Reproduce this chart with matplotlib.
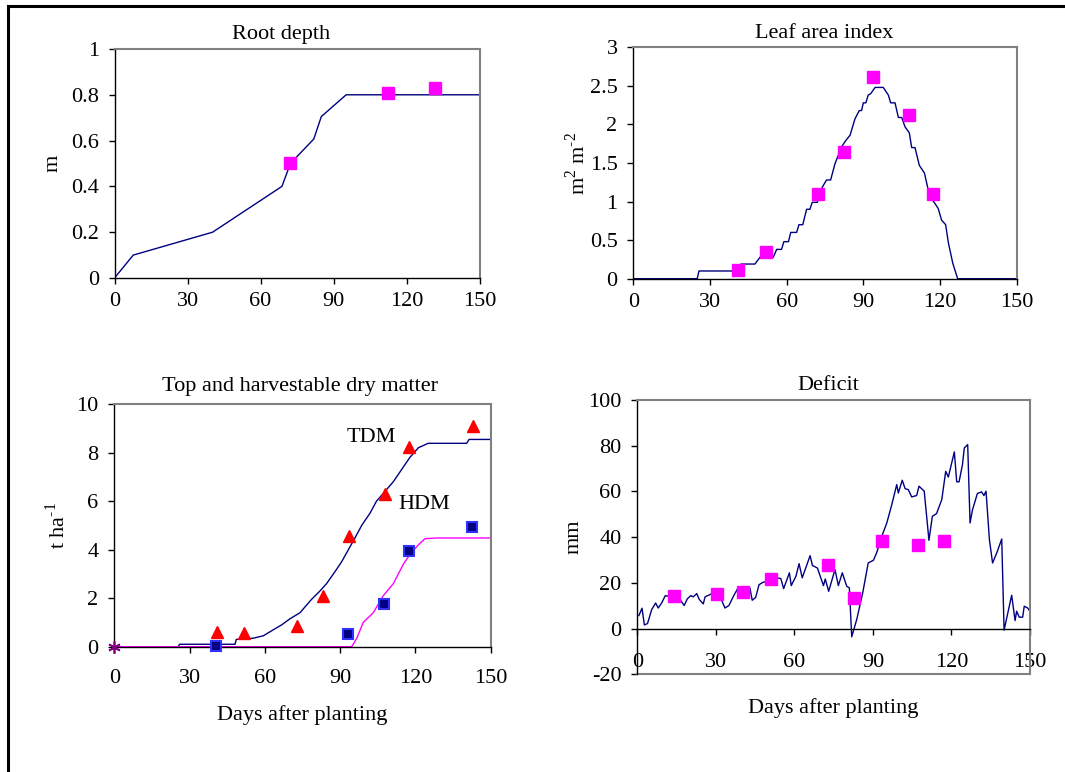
import matplotlib
matplotlib.use("Agg")
import matplotlib.pyplot as plt

plt.rcParams['font.family'] = ['Liberation Serif', 'DejaVu Serif']
plt.rcParams['mathtext.fontset'] = 'custom'
plt.rcParams['mathtext.rm'] = 'Liberation Serif'

# ---------------- data ----------------
# Root depth (m)
root_days = [0, 7.7, 40.3, 68.8, 72.3, 81.9, 85.0, 95.2, 150]
root_sim = [0, 0.10, 0.20, 0.40, 0.50, 0.607, 0.705, 0.80, 0.80]
root_obs_days = [72.3, 112.4, 131.9]
root_obs = [0.50, 0.808, 0.831]

# Leaf area index (m2 m-2)
lai_days = [0, 25.0, 25.7, 41.7, 42.1, 47.6, 49.6, 54.8, 56.1, 58.0, 58.9, 60.7,
            61.6, 63.9, 64.8, 66.3, 67.8, 69.1, 70.0, 72.0, 73.0, 74.0, 75.6,
            77.2, 78.9, 81.5, 83.1, 84.8, 86.7, 88.4, 89.3, 90.0, 91.0, 91.9,
            92.9, 94.6, 97.8, 99.8, 100.7, 102.4, 103.7, 105.0, 106.3, 108.0,
            108.9, 110.2, 111.9, 113.9, 115.4, 117.1, 119.3, 120.6, 122.2,
            123.3, 125.0, 126.9, 150]
lai_sim = [0, 0, 0.10, 0.10, 0.19, 0.19, 0.28, 0.28, 0.38, 0.38, 0.48, 0.48,
           0.60, 0.60, 0.70, 0.70, 0.90, 0.90, 0.99, 0.99, 1.10, 1.19, 1.28,
           1.28, 1.49, 1.71, 1.79, 1.86, 2.07, 2.18, 2.18, 2.28, 2.28, 2.38,
           2.40, 2.48, 2.48, 2.38, 2.28, 2.28, 2.09, 2.09, 1.97, 1.89,
           1.70, 1.70, 1.47, 1.37, 1.15, 1.02, 0.91, 0.76, 0.70,
           0.46, 0.20, 0, 0]
lai_obs_days = [40.8, 51.8, 72.4, 82.6, 93.8, 107.7, 117.3]
lai_obs = [0.11, 0.35, 1.10, 1.64, 2.62, 2.12, 1.10]

# Top (TDM) and harvestable (HDM) dry matter (t/ha)
tdm_days = [0, 25.5, 26, 48.1, 48.6, 55.4, 59.4, 63.4, 66.7, 70.0, 74.0, 78.6,
            82.0, 84.6, 88.0, 90.6, 93.3, 96.0, 98.6, 101.9, 104.5, 107.9,
            111.2, 114.5, 117.8, 121.2, 125.1, 140.4, 141.4, 150]
tdm_sim = [0, 0, 0.10, 0.10, 0.30, 0.35, 0.45, 0.70, 0.90, 1.15, 1.40, 1.95,
           2.30, 2.60, 3.10, 3.50, 4.00, 4.50, 5.00, 5.50, 6.00, 6.40,
           6.80, 7.30, 7.80, 8.20, 8.38, 8.38, 8.54, 8.54]
hdm_days = [0, 94.6, 96.6, 99.2, 103.2, 107.2, 111.2, 115.2, 117.8, 121.2,
            123.8, 128.5, 150]
hdm_sim = [0, 0, 0.34, 1.00, 1.40, 2.10, 2.60, 3.40, 3.80, 4.20, 4.45, 4.48, 4.48]
tdm_obs_days = [41.0, 51.7, 72.7, 83.0, 93.7, 107.9, 117.6, 143.1]
tdm_obs = [0.62, 0.55, 0.85, 2.09, 4.57, 6.29, 8.21, 9.09]
hdm_obs_days = [40.6, 93.1, 107.3, 117.3, 142.7]
hdm_obs = [0.04, 0.54, 1.76, 3.93, 4.95]
planting_day = [0]
planting_dm = [0]

# Soil water deficit (mm)
def_days = [0.6, 1.8, 2.7, 3.9, 5.5, 7.0, 8.0, 9.3, 10.7, 12.2, 16.3, 17.9,
            19.1, 20.4, 21.4, 22.7, 23.7, 25.2, 25.9, 27.8, 29.6, 31.6, 33.5,
            35.0, 36.7, 38.3, 40.5, 43.0, 43.9, 45.2, 46.5, 48.1, 50.0, 53.2,
            54.8, 55.9, 58.1, 58.8, 60.6, 61.8, 63.0, 66.0, 66.9, 68.8, 71.1,
            71.8, 73.1, 75.5, 76.8, 78.3, 80.0, 81.0, 81.9, 83.8, 86.1, 88.2,
            90.2, 91.4, 93.5, 95.3, 97.2, 99.1, 99.7, 101.2, 102.3, 103.5,
            104.8, 106.7, 107.6, 109.6, 111.4, 112.7, 114.3, 116.3, 117.8,
            118.8, 121.1, 122.0, 122.9, 124.2, 124.9, 126.2, 127.1, 128.0,
            129.9, 131.5, 132.4, 133.2, 134.5, 135.7, 137.3, 139.2, 140.1,
            143.0, 144.3, 144.9, 145.9, 147.2, 147.8, 149.1, 150.0]
def_sim = [5.7, 8.9, 1.6, 2.2, 8.3, 11.2, 9.0, 11.2, 14.4, 14.1, 12.7, 10.1,
           13.0, 14.4, 13.9, 15.3, 12.7, 10.8, 13.9, 14.9, 15.9, 13.9, 9.0,
           10.1, 14.1, 17.4, 15.9, 17.8, 12.4, 13.6, 19.2, 20.3, 20.7, 22.2,
           21.9, 17.5, 24.4, 18.8, 22.9, 28.4, 22.2, 31.9, 27.6, 26.5, 18.8,
           21.7, 16.3, 25.8, 18.8, 24.4, 18.5, 17.8, -3.6, 3.9, 15.6, 28.7,
           29.9, 33.1, 40.7, 46.2, 54.2, 63.0, 59.3, 64.9, 61.2, 60.8,
           57.6, 58.2, 62.3, 60.1, 38.6, 49.1, 50.3, 56.4, 68.8,
           66.3, 77.3, 64.2, 64.2, 71.7, 79.0, 80.5, 46.2, 51.8,
           59.1, 59.8, 58.2, 60.1, 38.9, 28.7, 33.1, 39.2, -0.7,
           14.6, 3.5, 7.6, 5.0, 5.0, 9.8, 9.0, 7.6]
def_obs_days = [13.9, 30.4, 40.4, 51.2, 72.8, 82.8, 93.5, 107.2, 117.3]
def_obs = [14.1, 15.3, 16.0, 21.9, 27.6, 13.4, 38.1, 36.5, 38.2]

x_ticks = [0, 30, 60, 90, 120, 150]

# ---------------- styles ----------------
NAVY = '#000080'
MAG = '#FF00FF'
GREY = '#808080'
FS = 16

W, H = 1065, 772
fig = plt.figure(figsize=(W / 100, H / 100), dpi=100)


def px_axes(x0, y0, x1, y1):
    ax = fig.add_axes([x0 / W, 1 - y1 / H, (x1 - x0) / W, (y1 - y0) / H])
    ax._px = (x0, y0, x1, y1)
    return ax


def style(ax, xpad):
    for s in ('top', 'right'):
        ax.spines[s].set_color(GREY)
        ax.spines[s].set_linewidth(1.5)
    for s in ('left', 'bottom'):
        ax.spines[s].set_color('black')
        ax.spines[s].set_linewidth(1.0)
    ax.tick_params(direction='out', length=4.3, width=1, labelsize=FS)
    ax.tick_params(axis='x', pad=xpad)
    ax.tick_params(axis='y', pad=7)
    ax.set_xlim(0, 150)
    ax.set_xticks(x_ticks)


def ylabel_at(ax, text, xc, yc):
    x0, y0, x1, y1 = ax._px
    ax.set_ylabel(text, fontsize=FS, va='center', ha='center')
    ax.yaxis.set_label_coords((xc - x0) / (x1 - x0), (y1 - yc) / (y1 - y0))


def xlabel_at(ax, text, xc, yc):
    x0, y0, x1, y1 = ax._px
    ax.set_xlabel(text, fontsize=FS, va='center')
    ax.xaxis.set_label_coords((xc - x0) / (x1 - x0), (y1 - yc) / (y1 - y0))


def fmt(v):
    return ('%g' % v)


# outer frame (top & left edges visible)
fig.add_artist(plt.Line2D([8 / W, 8 / W], [0, 1 - 6 / H], color='black', lw=2.2,
                          transform=fig.transFigure))
fig.add_artist(plt.Line2D([8 / W, 1], [1 - 6 / H, 1 - 6 / H], color='black', lw=2.2,
                          transform=fig.transFigure))

sq = dict(marker='s', ms=8, mfc=MAG, mec=MAG, ls='none', clip_on=False, zorder=5)

# ---- Panel 1: Root depth ----
ax1 = px_axes(114.5, 49, 479.5, 278)
style(ax1, 6)
ax1.plot(root_days, root_sim, color=NAVY, lw=1)
ax1.plot(root_obs_days, root_obs, **sq)
ax1.set_ylim(0, 1)
yt = [0, 0.2, 0.4, 0.6, 0.8, 1]
ax1.set_yticks(yt)
ax1.set_yticklabels([fmt(v) for v in yt])
ylabel_at(ax1, 'm', 53, 163)
fig.text(281 / W, 1 - 34 / H, 'Root depth', ha='center', va='center', fontsize=FS)

# ---- Panel 2: Leaf area index ----
ax2 = px_axes(633.3, 47.3, 1016.7, 278.7)
style(ax2, 6)
ax2.plot(lai_days, lai_sim, color=NAVY, lw=1)
ax2.plot(lai_obs_days, lai_obs, **sq)
ax2.set_ylim(0, 3)
yt = [0, 0.5, 1, 1.5, 2, 2.5, 3]
ax2.set_yticks(yt)
ax2.set_yticklabels([fmt(v) for v in yt])
ylabel_at(ax2, r'm$^{2}$ m$^{\text{-}2}$', 578, 163)
fig.text(824 / W, 1 - 34 / H, 'Leaf area index', ha='center', va='center', fontsize=FS)

# ---- Panel 3: Dry matter ----
ax3 = px_axes(114.3, 404, 490.7, 646.7)
style(ax3, 12)
ax3.plot(tdm_days, tdm_sim, color=NAVY, lw=1)
ax3.plot(hdm_days, hdm_sim, color=MAG, lw=1)
ax3.plot(tdm_obs_days, tdm_obs, marker='^', ms=9, mfc='#FF0000', mec='#FF0000',
         ls='none', clip_on=False, zorder=5)
ax3.plot(hdm_obs_days, hdm_obs, marker='s', ms=7.5, mfc=NAVY, mec='#3030FF', mew=1.5,
         ls='none', clip_on=False, zorder=5)
ax3.plot(planting_day, planting_dm, marker=(6, 2, 0), ms=9, color='#800080',
         mew=1.2, ls='none', clip_on=False, zorder=6)
ax3.set_ylim(0, 10)
yt = [0, 2, 4, 6, 8, 10]
ax3.set_yticks(yt)
ax3.set_yticklabels([fmt(v) for v in yt])
ylabel_at(ax3, r't ha$^{\text{-}1}$', 57, 525)
xlabel_at(ax3, 'Days after planting', 302, 715)
ax3.text(102.5, 8.6, 'TDM', ha='center', va='center', fontsize=FS)
ax3.text(123.5, 5.85, 'HDM', ha='center', va='center', fontsize=FS)
fig.text(300 / W, 1 - 386 / H, 'Top and harvestable dry matter', ha='center',
         va='center', fontsize=FS)

# ---- Panel 4: Deficit ----
ax4 = px_axes(637.3, 400, 1030, 674.3)
style(ax4, 13)
ax4.spines['bottom'].set_position(('data', 0))
ax4.axhline(-20, color=GREY, lw=1.5, clip_on=False)
ax4.plot(def_days, def_sim, color=NAVY, lw=1)
ax4.plot(def_obs_days, def_obs, **sq)
ax4.set_ylim(-20, 100)
yt = [-20, 0, 20, 40, 60, 80, 100]
ax4.set_yticks(yt)
ax4.set_yticklabels([fmt(v) for v in yt])
ylabel_at(ax4, 'mm', 574, 537)
xlabel_at(ax4, 'Days after planting', 833, 708)
fig.text(828 / W, 1 - 386 / H, 'Deficit', ha='center', va='center', fontsize=FS)

fig.savefig('out.png', dpi=100)
